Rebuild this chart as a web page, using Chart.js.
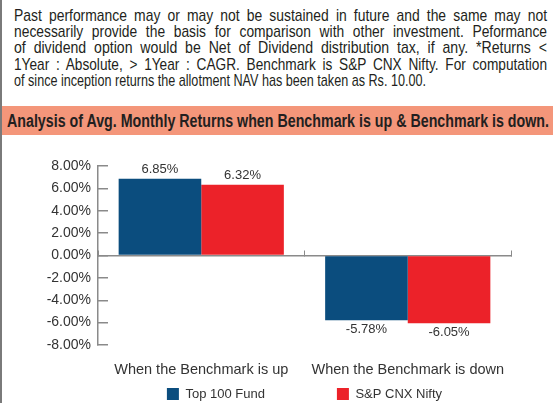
<!DOCTYPE html>
<html>
<head>
<meta charset="utf-8">
<script src="https://cdn.jsdelivr.net/npm/chart.js@4/dist/chart.umd.min.js"></script>
<style>
  html, body { margin: 0; padding: 0; background: #fff; }
  body { width: 553px; height: 403px; position: relative; overflow: hidden;
         font-family: "Liberation Sans", Arial, sans-serif; }
  .edge { position: absolute; left: 0; top: 0; width: 2px; height: 403px; background: #7a7a7a; }
  .note { position: absolute; left: 14px; top: 8px; font-size: 17px; line-height: 16.2px;
          color: #231f20; white-space: nowrap; }
  .note span { display: block; width: max-content; transform-origin: 0 0; }
  .banner { position: absolute; left: 2px; top: 106px; width: 551px; height: 29px; background: #f4967a; }
  .banner span { position: absolute; left: 5px; top: 5px; font-size: 18px; font-weight: bold;
                 color: #231f20; white-space: nowrap; transform-origin: 0 0; }
  #wrap { position: absolute; left: 0; top: 140px; width: 553px; height: 263px; }
</style>
</head>
<body>
<div class="edge"></div>
<div class="note" id="note">
<span data-w="533">Past performance may or may not be sustained in future and the same may not</span>
<span data-w="533">necessarily provide the basis for comparison with other investment. Peformance</span>
<span data-w="533">of dividend option would be Net of Dividend distribution tax, if any. *Returns &lt;</span>
<span data-w="533">1Year : Absolute, &gt; 1Year : CAGR. Benchmark is S&amp;P CNX Nifty. For computation</span>
<span data-w="412" data-last="1">of since inception returns the allotment NAV has been taken as Rs. 10.00.</span>
</div>
<div class="banner"><span id="title">Analysis of Avg. Monthly Returns when Benchmark is up &amp; Benchmark is down.</span></div>
<div id="wrap"><canvas id="c"></canvas></div>
<script>
const categories = ['When the Benchmark is up', 'When the Benchmark is down'];
const fundReturns = [6.85, -5.78];
const niftyReturns = [6.32, -6.05];
const seriesNames = ['Top 100 Fund', 'S&P CNX Nifty'];
const yMin = -8, yMax = 8, yStep = 2;

const FONT = '"Liberation Sans", Arial, sans-serif';
const TXT = '#333333';
const AXIS = '#8a8a8a';
const LEGEND_PAD = 72;

// the print uses a condensed face and justified lines: squeeze each line,
// part of the way towards the last line's squeeze, and let word spacing fill the rest
(function () {
  const lines = [...document.querySelectorAll('#note span')];
  const last = lines[lines.length - 1];
  const f = +last.dataset.w / last.getBoundingClientRect().width;
  lines.forEach(el => {
    const target = +el.dataset.w;
    const w = el.getBoundingClientRect().width;
    let k = target / w;
    if (!el.dataset.last && w * f < target) {
      k = (k + f) / 2;
      const gaps = el.textContent.trim().split(/\s+/).length - 1;
      el.style.wordSpacing = ((target / k - w) / gaps) + 'px';
    }
    el.style.transform = 'scaleX(' + k + ')';
  });
  const t = document.getElementById('title');
  t.style.transform = 'scaleX(' + (542 / t.getBoundingClientRect().width) + ')';
})();

// values printed above / below each bar
const barLabels = {
  id: 'barLabels',
  afterDatasetsDraw(chart) {
    const ctx = chart.ctx;
    ctx.save();
    ctx.font = '13px ' + FONT;
    ctx.fillStyle = TXT;
    ctx.textAlign = 'center';
    ctx.textBaseline = 'middle';
    chart.data.datasets.forEach((ds, i) => {
      chart.getDatasetMeta(i).data.forEach((bar, j) => {
        const v = ds.data[j];
        const y = v >= 0 ? bar.y - 9 : bar.y + 9;
        ctx.fillText(v.toFixed(2) + '%', bar.x, y);
      });
    });
    ctx.restore();
  }
};

// wide gap between legend items without a tall legend box
const legendSpacing = {
  id: 'legendSpacing',
  beforeInit(chart) {
    const fit = chart.legend.fit;
    chart.legend.fit = function () {
      fit.call(this);
      this.height = 20;
    };
  },
  afterLayout(chart) {
    const lg = chart.legend;
    lg.top = 254 - 6.5 - LEGEND_PAD;
    lg.bottom = chart.height;
    lg.left += 49;
    lg.right += 49;
  }
};

new Chart(document.getElementById('c').getContext('2d'), {
  type: 'bar',
  data: {
    labels: categories,
    datasets: [
      { label: seriesNames[0], data: fundReturns, backgroundColor: '#0b4d7e', xAxisID: 'x', yAxisID: 'y' },
      { label: seriesNames[1], data: niftyReturns, backgroundColor: '#ec2229', xAxisID: 'x', yAxisID: 'y' }
    ]
  },
  options: {
    responsive: true,
    maintainAspectRatio: false,
    animation: false,
    categoryPercentage: 0.8,
    barPercentage: 1.0,
    layout: { padding: { top: 26, right: 42, left: 0, bottom: 0 } },
    scales: {
      x: {
        type: 'category',
        position: 'bottom',
        offset: true,
        grid: { display: false, drawTicks: false },
        border: { display: false },
        ticks: { color: TXT, font: { family: FONT, size: 14.5 }, padding: 16, maxRotation: 0, autoSkip: false },
        afterFit(s) { s.height = 38; }
      },
      x2: {
        type: 'category',
        position: { y: 0 },
        offset: true,
        grid: { offset: true, drawOnChartArea: false, tickLength: -6, color: AXIS, lineWidth: 1 },
        border: { color: AXIS, width: 1.5 },
        ticks: { display: false }
      },
      y: {
        min: yMin,
        max: yMax,
        grid: { drawOnChartArea: false, tickLength: -10, color: AXIS, lineWidth: 1.5 },
        border: { color: AXIS, width: 1.5 },
        ticks: {
          stepSize: yStep,
          padding: 17,
          color: TXT,
          font: { family: FONT, size: 14 },
          callback: v => v.toFixed(2) + '%'
        },
        afterFit(s) { s.width = 98; }
      }
    },
    plugins: {
      legend: {
        position: 'bottom',
        fullSize: true,
        labels: {
          boxWidth: 12,
          boxHeight: 12,
          padding: LEGEND_PAD,
          color: TXT,
          font: { family: FONT, size: 13 }
        }
      },
      tooltip: { enabled: false }
    }
  },
  plugins: [barLabels, legendSpacing]
});
</script>
</body>
</html>
